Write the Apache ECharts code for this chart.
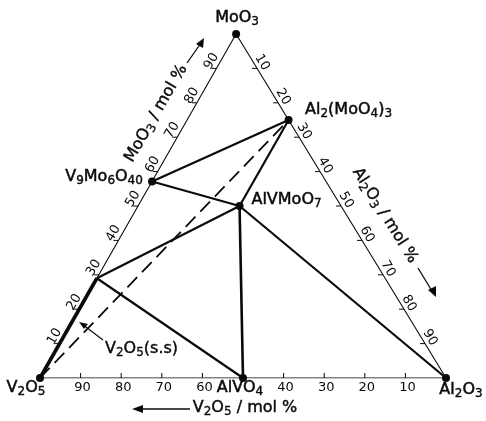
<!DOCTYPE html>
<html><head><meta charset="utf-8">
<script src="https://cdn.jsdelivr.net/npm/echarts@6/dist/echarts.min.js"></script>
<style>html,body{margin:0;padding:0;background:#fff}#c{width:486px;height:421px}</style>
</head><body><div id="c"></div>
<script>
// Compositions in mol %: [V2O5, MoO3, Al2O3]
const phaseNames = ['MoO₃', 'Al₂(MoO₄)₃', 'V₉Mo₆O₄₀', 'AlVMoO₇', 'V₂O₅', 'AlVO₄', 'Al₂O₃'];
const phaseComp = [[0,100,0],[0,75,25],[42.86,57.14,0],[25,50,25],[100,0,0],[50,0,50],[0,0,100]];
const ssName = 'V₂O₅(s.s)';
const ssLimit = [71, 29, 0];
// tie lines (solid) by end names ('ss' = solid-solution limit)
const tieLines = [
  ['V₉Mo₆O₄₀', 'Al₂(MoO₄)₃'],
  ['V₉Mo₆O₄₀', 'AlVMoO₇'],
  ['Al₂(MoO₄)₃', 'AlVMoO₇'],
  ['AlVMoO₇', 'Al₂O₃'],
  ['ss', 'AlVMoO₇'],
  ['ss', 'AlVO₄']
];
const heavyLines = [['AlVMoO₇', 'AlVO₄']];
const ssRange = [['V₂O₅', 'ss']];
const dashedLines = [['V₂O₅', 'Al₂(MoO₄)₃']];
const tickValues = [10, 20, 30, 40, 50, 60, 70, 80, 90];
const bottomTickLabels = [90, 80, 70, 60, 40, 30, 20, 10]; // V2O5 mol %

const APEX_X = 48.3; // horizontal position of MoO3 apex (drawing is slightly skewed)
function tern(c) { // [V2O5, MoO3, Al2O3] -> cartesian
  const s = c[0] + c[1] + c[2];
  const m = c[1] / s * 100, a = c[2] / s * 100;
  return [a + m * APEX_X / 100, m];
}
function comp(name) {
  if (name === 'ss') return ssLimit;
  return phaseComp[phaseNames.indexOf(name)];
}
function seg(pair) { return {coords: [tern(comp(pair[0])), tern(comp(pair[1]))]}; }

// convert unicode-subscript formula into rich text
const SUB = '₀₁₂₃₄₅₆₇₈₉';
function richFormula(str) {
  let out = '', cur = '', curSub = null;
  const flush = () => { if (cur) out += '{' + (curSub ? 's' : 'n') + '|' + cur + '}'; cur = ''; };
  for (const ch of str) {
    const i = SUB.indexOf(ch);
    const isSub = i >= 0;
    if (curSub !== null && isSub !== curSub) flush();
    curSub = isSub;
    cur += isSub ? String(i) : ch;
  }
  flush();
  return out;
}
const FONT = 'DejaVu Sans';
const INK = '#0a0a0a';
// rich styles for series labels (echarts naming)
const RICH = {
  n: {fontSize: 16, fontFamily: FONT, color: INK, lineHeight: 18, verticalAlign: 'top',
      textBorderColor: INK, textBorderWidth: 0.5},
  s: {fontSize: 12, fontFamily: FONT, color: INK, lineHeight: 7, verticalAlign: 'bottom',
      textBorderColor: INK, textBorderWidth: 0.4}
};
// rich styles for graphic text (zrender naming)
const RICH_G = {
  n: {fontSize: 16, fontFamily: FONT, fill: INK, lineHeight: 18, verticalAlign: 'top',
      stroke: INK, lineWidth: 0.4},
  s: {fontSize: 12, fontFamily: FONT, fill: INK, lineHeight: 7, verticalAlign: 'bottom',
      stroke: INK, lineWidth: 0.3}
};
const labelCfg = {
  'MoO₃': [1, -15],
  'Al₂(MoO₄)₃': [60, -9],
  'V₉Mo₆O₄₀': [-48, -4],
  'AlVMoO₇': [47, -5],
  'V₂O₅': [-14, 11],
  'AlVO₄': [-3, 11],
  'Al₂O₃': [15, 13]
};

// ticks: [x, y, side] side 0=left edge, 1=right edge, 2=bottom
const tickData = [];
const leftLabels = [], rightLabels = [], bottomLabels = [];
tickValues.forEach(v => {
  const pl = tern([100 - v, v, 0]);
  tickData.push([pl[0], pl[1], 0]);
  leftLabels.push([pl[0], pl[1], v]);
  const pr = tern([0, 100 - v, v]);
  tickData.push([pr[0], pr[1], 1]);
  rightLabels.push([pr[0], pr[1], v]);
  const pb = tern([v, 0, 100 - v]);
  tickData.push([pb[0], pb[1], 2]);
});
bottomTickLabels.forEach(v => {
  const pb = tern([v, 0, 100 - v]);
  bottomLabels.push([pb[0], pb[1], v]);
});

const edge = ['V₂O₅', 'Al₂O₃', 'MoO₃', 'V₂O₅'].map(n => tern(comp(n)));

function tickLabelSeries(data, dx, dy, rot) {
  return {type: 'custom', coordinateSystem: 'cartesian2d', data: data, z: 4,
    renderItem: (params, api) => {
      const c = api.coord([api.value(0), api.value(1)]);
      return {type: 'text', x: c[0] + dx, y: c[1] + dy, rotation: rot * Math.PI / 180,
        style: {text: String(api.value(2)), font: '13px "DejaVu Sans"', fill: INK,
                align: 'center', verticalAlign: 'middle'}};
    }};
}
function gText(str, x, y, rotDeg, align) {
  return {type: 'text', x: x, y: y, rotation: rotDeg * Math.PI / 180,
    style: {text: richFormula(str), rich: RICH_G, align: align || 'center', verticalAlign: 'middle'}};
}

const chart = echarts.init(document.getElementById('c'), null, {renderer: 'canvas'});
chart.setOption({
  animation: false,
  backgroundColor: '#fff',
  grid: {left: 40, right: 40, top: 34, bottom: 43},
  xAxis: {type: 'value', min: 0, max: 100, show: false},
  yAxis: {type: 'value', min: 0, max: 100, show: false},
  series: [
    {type: 'line', data: edge, symbol: 'none', lineStyle: {color: INK, width: 1.1}, z: 1},
    {type: 'lines', coordinateSystem: 'cartesian2d', data: tieLines.map(seg),
     lineStyle: {color: INK, width: 2.2, opacity: 1}, z: 2},
    {type: 'lines', coordinateSystem: 'cartesian2d', data: heavyLines.map(seg),
     lineStyle: {color: INK, width: 2.6, opacity: 1}, z: 2},
    {type: 'lines', coordinateSystem: 'cartesian2d', data: ssRange.map(seg),
     lineStyle: {color: INK, width: 3.6, opacity: 1}, z: 2},
    {type: 'lines', coordinateSystem: 'cartesian2d', data: dashedLines.map(seg),
     lineStyle: {color: INK, width: 1.8, type: [14, 7], opacity: 1}, z: 2},
    {type: 'custom', coordinateSystem: 'cartesian2d', data: tickData, z: 3,
     renderItem: (params, api) => {
       const p = api.coord([api.value(0), api.value(1)]);
       const side = api.value(2);
       let x2 = p[0], y2 = p[1];
       if (side === 0) x2 = p[0] - 5;
       else if (side === 1) x2 = p[0] - 5;
       else y2 = p[1] - 5;
       return {type: 'line', shape: {x1: p[0], y1: p[1], x2: x2, y2: y2},
               style: {stroke: INK, lineWidth: 1}};
     }},
    {type: 'scatter', symbol: 'circle', symbolSize: 8, itemStyle: {color: INK, opacity: 1}, z: 5,
     data: phaseNames.map((n, i) => ({
       name: n, value: tern(phaseComp[i]),
       label: {show: true, position: 'inside', offset: labelCfg[n], formatter: richFormula(n),
               color: INK, textBorderWidth: 0, opacity: 1, rich: RICH}
     }))},
    tickLabelSeries(leftLabels, -5, -7, 60),
    tickLabelSeries(rightLabels, 5, -6, -60),
    tickLabelSeries(bottomLabels, 2, 10, 0)
  ],
  graphic: [
    gText('MoO₃ / mol %', 157, 114, 60),
    gText('Al₂O₃ / mol %', 384, 216, -58),
    gText('V₂O₅ / mol %', 245, 409, 0),
    gText(ssName, 105, 350, 0, 'left'),
    // arrows
    {type: 'line', shape: {x1: 187, y1: 63, x2: 201, y2: 43}, style: {stroke: INK, lineWidth: 1.3}},
    {type: 'polygon', shape: {points: [[204, 38], [196, 44], [203, 48]]}, style: {fill: INK}},
    {type: 'line', shape: {x1: 418, y1: 268, x2: 432, y2: 291}, style: {stroke: INK, lineWidth: 1.3}},
    {type: 'polygon', shape: {points: [[436, 297], [428, 290], [436, 286]]}, style: {fill: INK}},
    {type: 'line', shape: {x1: 190, y1: 409, x2: 140, y2: 409}, style: {stroke: INK, lineWidth: 1.3}},
    {type: 'polygon', shape: {points: [[132, 409], [143, 405], [143, 413]]}, style: {fill: INK}},
    {type: 'line', shape: {x1: 103, y1: 340, x2: 82, y2: 324}, style: {stroke: INK, lineWidth: 1.2}},
    {type: 'polygon', shape: {points: [[79, 322], [88, 324], [84, 329]]}, style: {fill: INK}}
  ]
});
</script></body></html>
